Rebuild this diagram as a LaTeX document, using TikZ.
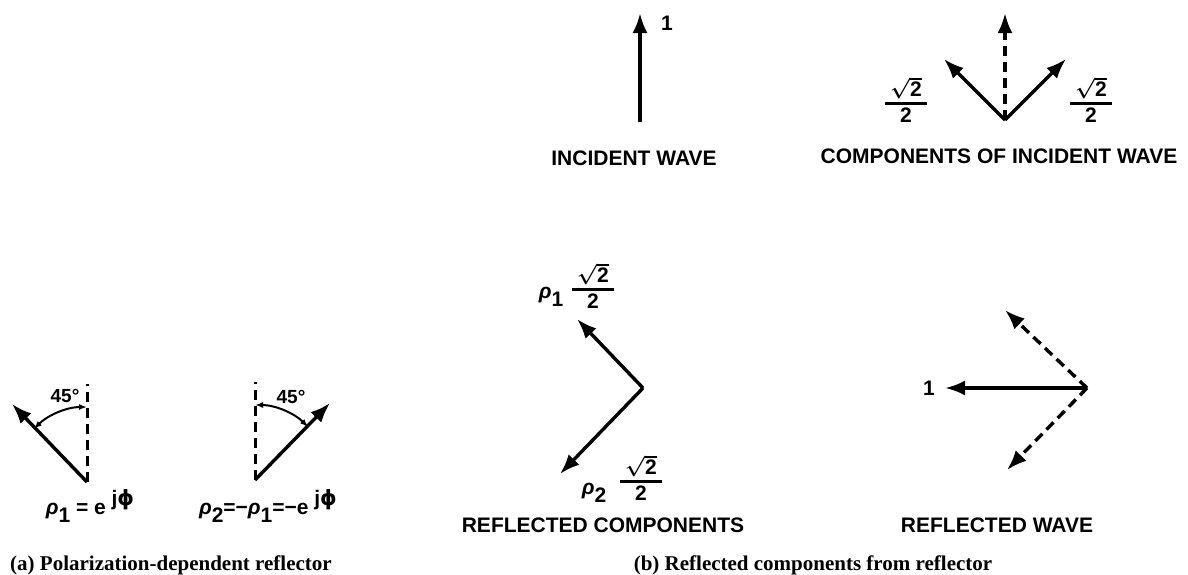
\documentclass[tikz,border=0pt]{standalone}
\usepackage{fontspec}
\setmainfont{Liberation Serif}
\setsansfont{Liberation Sans}
\newfontfamily\dejavu{DejaVu Sans}
\usetikzlibrary{arrows.meta}
\newcommand\rtwo{{\setlength{\arrayrulewidth}{2.8pt}\renewcommand\arraystretch{0.85}%
\begin{tabular}{@{\hspace{5pt}}c@{\hspace{5pt}}}\boldmath$\sqrt{\mbox{\sffamily\bfseries 2}}$\\[-1pt]\hline\rule{0pt}{18pt}2\end{tabular}}}
\newcommand\rhoi{{\itshape ρ}}
\newcommand\sub[1]{\raisebox{-8pt}{#1}}
\newcommand\phij{\raisebox{9pt}{j{\dejavu\bfseries ϕ}}}
\begin{document}
\begin{tikzpicture}[x=1pt,y=-1pt,
 vec/.style={line width=3.4pt,-{Latex[length=20pt,width=15pt]}},
 dvec/.style={vec,dash pattern=on 10pt off 6pt},
 guide/.style={line width=3pt,dash pattern=on 10pt off 6pt},
 lbl/.style={font=\sffamily\bfseries\fontsize{21}{24}\selectfont, inner sep=0pt},
 slbl/.style={font=\sffamily\bfseries\fontsize{19}{21}\selectfont, inner sep=0pt},
 captxt/.style={font=\rmfamily\bfseries\fontsize{21}{24}\selectfont, inner sep=0pt},
 angarc/.style={line width=2pt,{Latex[length=8pt,width=6pt]}-{Latex[length=8pt,width=6pt]}},
]
\useasboundingbox (0,0) rectangle (1188,574);
% ---------- incident wave
\coordinate (iv) at (640,122);
\coordinate (it) at (640,13);
\draw[vec] (iv) -- (it);
\node[lbl] (ione) at (667,23) {1};
\node[lbl] (inc) at (634,158) {INCIDENT WAVE};
% ---------- components of incident wave
\coordinate (cv) at (1005,120);
\coordinate (ct) at (1005,13);
\coordinate (cl) at (944,59);
\coordinate (cr) at (1066,59);
\draw[dvec] (cv) -- (ct);
\draw[vec] (cv) -- (cl);
\draw[vec] (cv) -- (cr);
\node[lbl] (cfl) at (906,103) {\rtwo};
\node[lbl] (cfr) at (1091,103) {\rtwo};
\node[lbl] (comp) at (999,156) {COMPONENTS OF INCIDENT WAVE};
% ---------- (a) left reflector
\coordinate (av) at (87,482);
\coordinate (ag) at (87,384);
\coordinate (at) at (12,404);
\draw[guide] (av) -- (ag);
\draw[vec] (av) -- (at);
\draw[angarc] (87,407) arc[start angle=270,end angle=225,radius=75];
\node[slbl] (a45) at (65,396) {45°};
\node[lbl, anchor=base] (arho) at (90,514) {\rhoi\sub{1} = e \phij};
% ---------- (a) right reflector
\coordinate (bv) at (255,480);
\coordinate (bg) at (255,382);
\coordinate (bt) at (330,403);
\draw[guide] (bv) -- (bg);
\draw[vec] (bv) -- (bt);
\draw[angarc] (255,405) arc[start angle=270,end angle=315,radius=75];
\node[slbl] (b45) at (291,397) {45°};
\node[lbl, anchor=base] (brho) at (268,514) {\rhoi\sub{2}=−\rhoi\sub{1}=−e \phij};
\node[captxt, anchor=west] (capa) at (10,565) {(a) Polarization-dependent reflector};
% ---------- (b) reflected components
\coordinate (rv) at (643,388);
\coordinate (ru) at (577,319);
\coordinate (rd) at (560,474);
\draw[vec] (rv) -- (ru);
\draw[vec] (rv) -- (rd);
\node[lbl, anchor=base] (r1) at (551,298) {\rhoi\sub{1}};
\node[lbl] (r1f) at (593,289) {\rtwo};
\node[lbl, anchor=base] (r2) at (594,494) {\rhoi\sub{2}};
\node[lbl] (r2f) at (641,481) {\rtwo};
\node[lbl] (rc) at (603,525) {REFLECTED COMPONENTS};
% ---------- (b) reflected wave
\coordinate (wv) at (1087,388);
\coordinate (wl) at (945,388);
\coordinate (wu) at (1005,310);
\coordinate (wd) at (1007,470);
\draw[vec] (wv) -- (wl);
\draw[dvec] (wv) -- (wu);
\draw[dvec] (wv) -- (wd);
\node[lbl] (wone) at (929,388) {1};
\node[lbl] (rw) at (997,525) {REFLECTED WAVE};
\node[captxt] (capb) at (813,565) {(b) Reflected components from reflector};
\end{tikzpicture}
\end{document}
